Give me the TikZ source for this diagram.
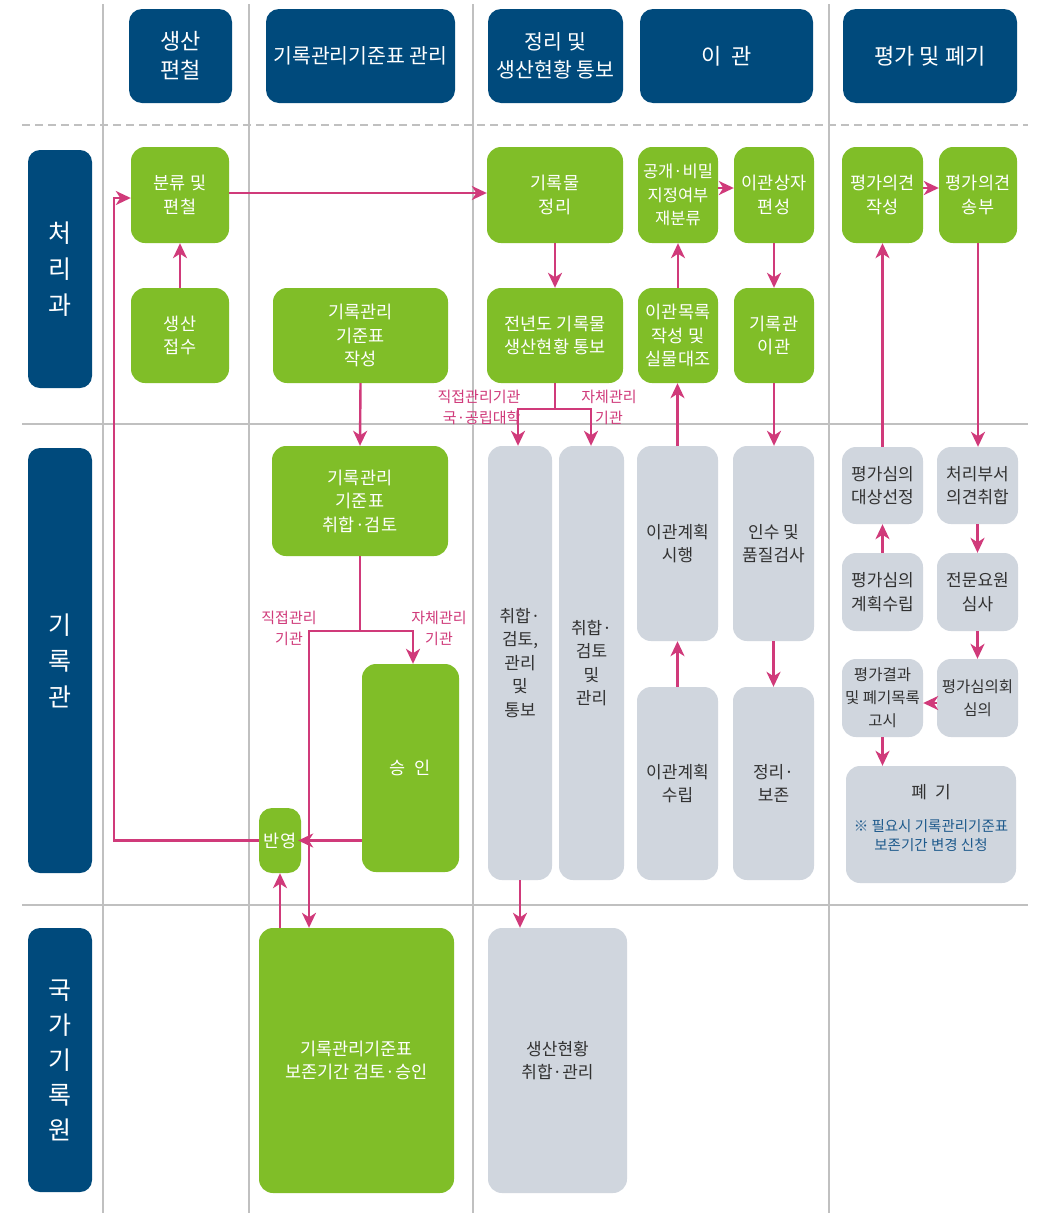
\documentclass[tikz,border=0pt]{standalone}
\usepackage{fontspec}
\setmainfont{Noto Sans CJK KR}
\usetikzlibrary{arrows.meta,calc}
\definecolor{hdr}{RGB}{0,74,124}
\definecolor{grn}{RGB}{128,190,40}
\definecolor{gry}{RGB}{208,214,222}
\definecolor{pnk}{RGB}{208,58,122}
\definecolor{lin}{RGB}{192,192,192}
\definecolor{notec}{RGB}{30,90,140}
\definecolor{dtxt}{RGB}{50,50,50}
\begin{document}
\begin{tikzpicture}[x=1pt,y=-1pt,
 hbox/.style={fill=hdr, rounded corners=13pt, text=white, font=\fontsize{22}{29}\selectfont, align=center, inner sep=0pt},
 rbox/.style={fill=hdr, rounded corners=12pt, text=white, font=\fontsize{25}{36}\selectfont, align=center, inner sep=0pt, minimum width=64pt},
 gbox/.style={fill=grn, rounded corners=14pt, text=white, font=\fontsize{17.5}{23.5}\selectfont, align=center, inner sep=0pt},
 ybox/.style={fill=gry, rounded corners=14pt, text=dtxt, font=\fontsize{17}{23.5}\selectfont, align=center, inner sep=0pt},
 arr/.style={draw=pnk, line width=2.4pt, -{Stealth[length=15pt,width=14pt,inset=4.5pt]}},
 ln/.style={draw=pnk, line width=2.4pt},
 lbl/.style={text=pnk, font=\fontsize{15}{21}\selectfont, align=center, inner sep=0pt},
 grid/.style={draw=lin, line width=1.3pt}]
\useasboundingbox (0,0) rectangle (1039,1213);
\fill[white] (0,0) rectangle (1039,1213);
% grid
\draw[grid] (103,4) -- (103,1213);
\draw[grid] (249,4) -- (249,1213);
\draw[grid] (473,4) -- (473,1213);
\draw[grid] (829,4) -- (829,1213);
\draw[grid] (22,424) -- (1028,424);
\draw[grid] (22,905) -- (1028,905);
\draw[draw=lin, line width=1.3pt, dash pattern=on 8pt off 5pt] (22,125) -- (1028,125);
% headers
\node[hbox, minimum width=103pt, minimum height=94pt] (h1) at (180.5,56) {생산\\편철};
\node[hbox, minimum width=189pt, minimum height=94pt, font=\fontsize{20.5}{28}\selectfont] (h2) at (360.5,56) {기록관리기준표 관리};
\node[hbox, minimum width=135pt, minimum height=94pt, font=\fontsize{20.5}{28}\selectfont] (h3) at (555.5,56) {정리 및\\생산현황 통보};
\node[hbox, minimum width=173pt, minimum height=94pt] (h4) at (726.5,56) {이\hspace{10pt}관};
\node[hbox, minimum width=174pt, minimum height=94pt] (h5) at (930,56) {평가 및 폐기};
% row labels
\node[rbox, minimum height=238pt] (r1) at (60,269) {처\\리\\과};
\node[rbox, minimum height=425pt] (r2) at (60,660.5) {기\\록\\관};
\node[rbox, minimum height=264pt, font=\fontsize{25}{35}\selectfont] (r3) at (60,1060) {국\\가\\기\\록\\원};
% row 1 green
\node[gbox, minimum width=98pt, minimum height=96pt] (bunryu) at (180,195) {분류 및\\편철};
\node[gbox, minimum width=98pt, minimum height=95pt] (jeopsu) at (180,335.5) {생산\\접수};
\node[gbox, minimum width=175pt, minimum height=95pt] (jakseong) at (360.5,335.5) {기록관리\\기준표\\작성};
\node[gbox, minimum width=136pt, minimum height=96pt] (jeongri) at (555,195) {기록물\\정리};
\node[gbox, minimum width=136pt, minimum height=95pt] (jeonnyeon) at (555,335.5) {전년도 기록물\\생산현황 통보};
\node[gbox, minimum width=80pt, minimum height=96pt, font=\fontsize{16.5}{23.5}\selectfont] (gonggae) at (678,195) {공개·비밀\\지정여부\\재분류};
\node[gbox, minimum width=80pt, minimum height=96pt] (sangja) at (774,195) {이관상자\\편성};
\node[gbox, minimum width=80pt, minimum height=95pt] (mokrok) at (678,335.5) {이관목록\\작성 및\\실물대조};
\node[gbox, minimum width=80pt, minimum height=95pt] (igwan) at (774,335.5) {기록관\\이관};
\node[gbox, minimum width=81pt, minimum height=96pt] (ug1) at (882.5,195) {평가의견\\작성};
\node[gbox, minimum width=78pt, minimum height=96pt] (ug2) at (978,195) {평가의견\\송부};
% row 2
\node[gbox, minimum width=176pt, minimum height=110pt] (chwihap) at (360,501) {기록관리\\기준표\\취합·검토};
\node[gbox, minimum width=97pt, minimum height=208pt] (seungin) at (410.5,768) {승\hspace{9pt}인};
\node[gbox, minimum width=42pt, minimum height=65pt, rounded corners=13pt] (banyeong) at (280,840.5) {반영};
\node[ybox, minimum width=64pt, minimum height=434pt] (g1) at (520,663) {취합·\\검토,\\관리\\및\\통보};
\node[ybox, minimum width=65pt, minimum height=434pt] (g2) at (591.5,663) {취합·\\검토\\및\\관리};
\node[ybox, minimum width=81pt, minimum height=195pt] (g3) at (677.5,543.5) {이관계획\\시행};
\node[ybox, minimum width=81pt, minimum height=195pt] (g4) at (773.5,543.5) {인수 및\\품질검사};
\node[ybox, minimum width=81pt, minimum height=193pt] (g5) at (677.5,783.5) {이관계획\\수립};
\node[ybox, minimum width=81pt, minimum height=193pt] (g6) at (773.5,783.5) {정리·\\보존};
\node[ybox, minimum width=81pt, minimum height=77pt] (p1) at (882.5,485.5) {평가심의\\대상선정};
\node[ybox, minimum width=81pt, minimum height=77pt] (p2) at (977.5,485.5) {처리부서\\의견취합};
\node[ybox, minimum width=81pt, minimum height=78pt] (p3) at (882.5,592) {평가심의\\계획수립};
\node[ybox, minimum width=81pt, minimum height=78pt] (p4) at (977.5,592) {전문요원\\심사};
\node[ybox, minimum width=81pt, minimum height=78pt, font=\fontsize{15.5}{23}\selectfont] (p5) at (882.5,698) {평가결과\\및 폐기목록\\고시};
\node[ybox, minimum width=81pt, minimum height=78pt, font=\fontsize{15.5}{23}\selectfont] (p6) at (977.5,698) {평가심의회\\심의};
\node[ybox, minimum width=170pt, minimum height=117pt] (pye) at (931,824.5) {};
\node[text=dtxt, font=\fontsize{17}{23}\selectfont, inner sep=0pt] (pyet) at (931,792) {폐\hspace{8pt}기};
\node[text=notec, font=\fontsize{14.5}{19}\selectfont, align=center, inner sep=0pt] (pyen) at (931,836) {※ 필요시 기록관리기준표\\보존기간 변경 신청};
% row 3
\node[gbox, minimum width=195pt, minimum height=265pt] (bojon) at (356.5,1060.5) {기록관리기준표\\보존기간 검토·승인};
\node[ybox, minimum width=139pt, minimum height=265pt] (hyeon) at (557.5,1060.5) {생산현황\\취합·관리};
% labels
\node[lbl, align=right] (la1) at (479,407) {직접관리기관\\국·공립대학};
\node[lbl] (la2) at (609,407) {자체관리\\기관};
\node[lbl] (la3) at (289,628) {직접관리\\기관};
\node[lbl] (la4) at (439,628) {자체관리\\기관};
% connectors row 1
\draw[arr] (jeopsu.north) -- (bunryu.south);
\draw[arr] ([yshift=2pt]bunryu.east) -- ([yshift=2pt]jeongri.west);
\draw[arr] (jeongri.south) -- (jeonnyeon.north);
\draw[arr] (mokrok.north) -- (gonggae.south);
\draw[arr] ([yshift=7pt]gonggae.east) -- ([yshift=7pt]sangja.west);
\draw[arr] (sangja.south) -- (igwan.north);
\draw[arr] ([yshift=7pt]ug1.east) -- ([yshift=7pt]ug2.west);
\draw[arr] (jakseong.south) -- (chwihap.north);
\draw[arr] (igwan.south) -- (igwan.south |- g4.north);
\draw[arr] (g3.north) -- (g3.north |- mokrok.south);
\draw[arr] (p1.north) -- (p1.north -| ug1.south) -- (ug1.south);
\draw[arr] (ug2.south) -- (ug2.south |- p2.north);
% split from jeonnyeon
\coordinate (sp1) at (555,409);
\draw[ln] (jeonnyeon.south) -- (sp1);
\draw[arr] (sp1) -| ([xshift=-2pt]g1.north);
\draw[arr] (sp1) -| ([xshift=-0.5pt]g2.north);
% split from chwihap
\coordinate (sp2) at (360,631);
\draw[ln] (chwihap.south) -- (sp2);
\draw[arr] (sp2) -| ([xshift=2.5pt]seungin.north);
\draw[arr] (sp2) -| ([xshift=-47.5pt]bojon.north);
% seungin -> banyeong
\draw[arr] (seungin.west |- banyeong.east) -- ([xshift=-3pt]banyeong.east);
% banyeong -> bunryu
\draw[arr] (banyeong.west) -- ++(-145,0) |- ([yshift=-3pt]bunryu.west);
% bojon -> banyeong
\draw[arr] (bojon.north -| banyeong.south) -- (banyeong.south);
% row 2 arrows
\draw[arr] (g5.north) -- (g3.south);
\draw[arr] (g4.south) -- (g6.north);
\draw[arr] (g1.south) -- (g1.south |- hyeon.north);
\draw[arr] (p3.north) -- (p1.south);
\draw[arr] (p2.south) -- (p4.north);
\draw[arr] (p4.south) -- (p6.north);
\draw[arr] ([yshift=-5pt]p6.west) -- ([yshift=-5pt]p5.east);
\draw[arr] (p5.south) -- (p5.south |- pye.north);
\end{tikzpicture}
\end{document}
